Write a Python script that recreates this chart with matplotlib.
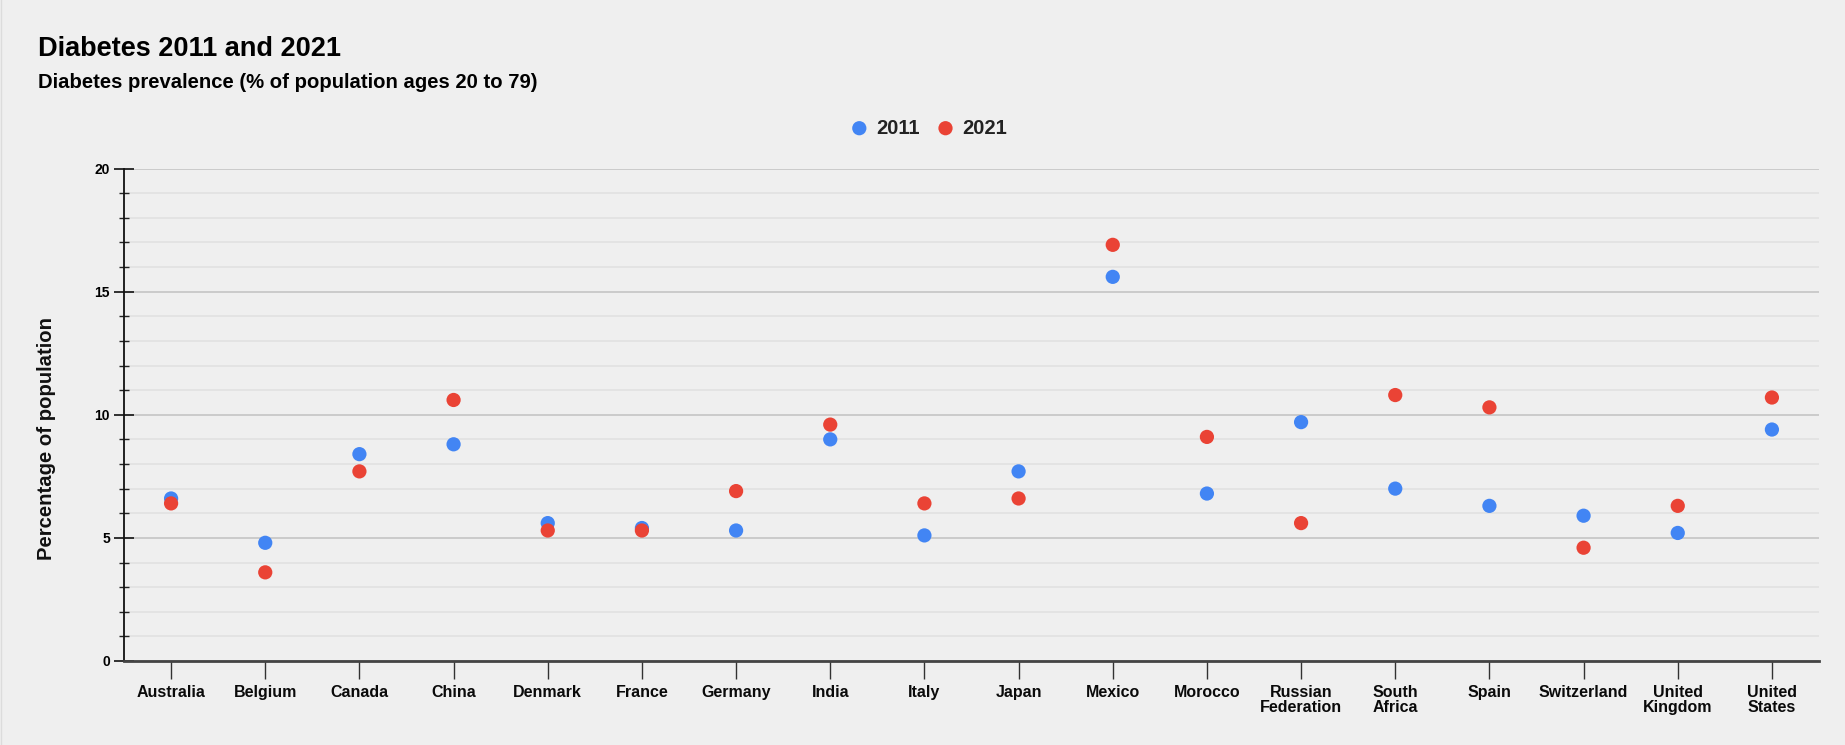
import numpy as np
import matplotlib.pyplot as plt
from matplotlib.ticker import MultipleLocator
from matplotlib.lines import Line2D

countries = ['Australia', 'Belgium', 'Canada', 'China', 'Denmark', 'France',
             'Germany', 'India', 'Italy', 'Japan', 'Mexico', 'Morocco',
             'Russian\nFederation', 'South\nAfrica', 'Spain', 'Switzerland',
             'United\nKingdom', 'United\nStates']
vals_2011 = [6.6, 4.8, 8.4, 8.8, 5.6, 5.4, 5.3, 9.0, 5.1, 7.7, 15.6, 6.8,
             9.7, 7.0, 6.3, 5.9, 5.2, 9.4]
vals_2021 = [6.4, 3.6, 7.7, 10.6, 5.3, 5.3, 6.9, 9.6, 6.4, 6.6, 16.9, 9.1,
             5.6, 10.8, 10.3, 4.6, 6.3, 10.7]
series = [('2011', vals_2011, '#4285f4'), ('2021', vals_2021, '#ea4335')]

plt.rcParams['font.family'] = ['Liberation Sans', 'DejaVu Sans']
bg = '#efefef'

W, H = 1845, 745
fig = plt.figure(figsize=(W / 100, H / 100), dpi=100, facecolor=bg)
ax = fig.add_axes([124 / W, 1 - 661 / H, (1819 - 124) / W, (661 - 168.5) / H])
ax.set_facecolor(bg)

# faint border on the left edge
fig.add_artist(Line2D([0.5 / W, 0.5 / W], [0, 1], color='#dcdcdc', lw=1))

x = np.arange(len(countries))
for name, vals, col in series:
    ax.scatter(x, vals, s=105, color=col, edgecolors='none', zorder=3, label=name)

ax.set_xlim(-0.5, len(countries) - 0.5)
ax.set_ylim(0, 20)
ax.yaxis.set_major_locator(MultipleLocator(5))
ax.yaxis.set_minor_locator(MultipleLocator(1))
ax.grid(True, which='major', axis='y', color='#c8c8c8', lw=1.3, zorder=0)
ax.grid(True, which='minor', axis='y', color='#e0e0e0', lw=1.1, zorder=0)

for s in ['top', 'right']:
    ax.spines[s].set_visible(False)
ax.spines['left'].set_color('#111111')
ax.spines['left'].set_linewidth(1.3)
ax.spines['bottom'].set_color('#444444')
ax.spines['bottom'].set_linewidth(2)

ax.set_xticks(x)
ax.set_xticklabels(countries, fontsize=11.5, fontweight='bold', color='#0a0a0a',
                   linespacing=1.0, va='top')
ax.tick_params(axis='x', length=13, width=1, color='#333333', pad=4.5)
ax.tick_params(axis='y', which='major', direction='inout', length=14, width=1.3,
               color='#222222', labelsize=10, pad=3)
ax.tick_params(axis='y', which='minor', direction='inout', length=7, width=1,
               color='#222222')
for lb in ax.get_yticklabels():
    lb.set_fontweight('bold')

fig.text(37.5 / W, 1 - 49 / H, 'Diabetes 2011 and 2021', fontsize=19.5,
         fontweight='bold', va='center', ha='left', color='#000000')
fig.text(37.5 / W, 1 - 82.5 / H, 'Diabetes prevalence (% of population ages 20 to 79)',
         fontsize=14.6, fontweight='bold', va='center', ha='left', color='#000000')
fig.text(47 / W, 1 - 439 / H, 'Percentage of population', rotation=90,
         fontsize=14.6, fontweight='bold', va='center', ha='center', color='#111111')

leg = fig.legend(loc='center', bbox_to_anchor=(928 / W, 1 - 128 / H), ncol=2,
                 frameon=False, handlelength=1.0, handletextpad=0.32,
                 columnspacing=0.8, prop={'weight': 'bold', 'size': 14.5},
                 markerscale=1.0)
for t in leg.get_texts():
    t.set_color('#222222')

fig.savefig('out.png', dpi=100, facecolor=bg)
